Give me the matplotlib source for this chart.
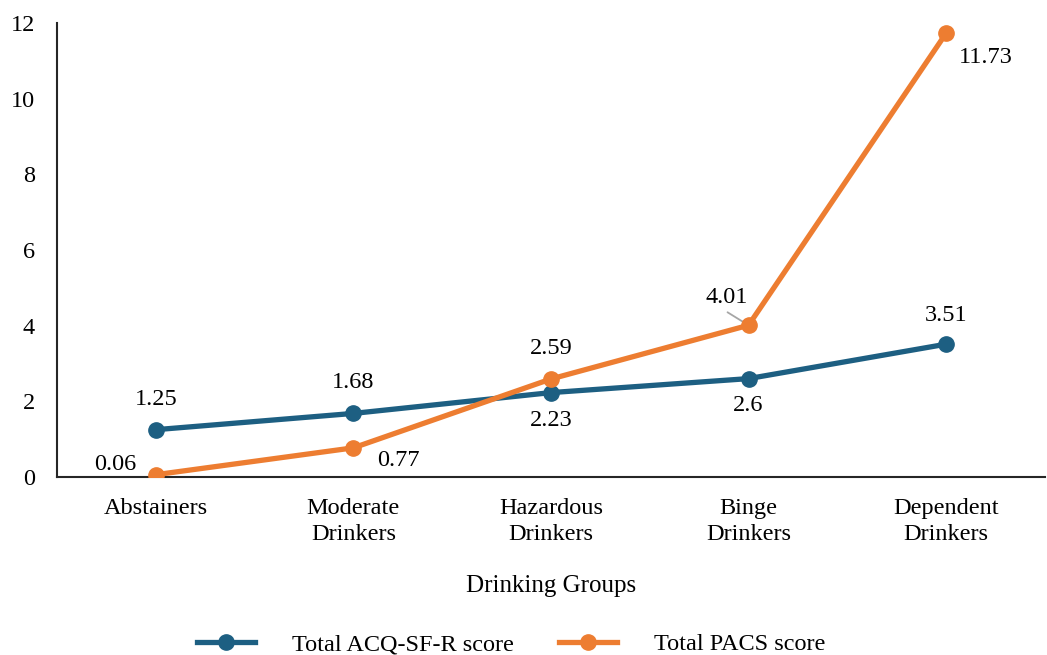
import numpy as np
import matplotlib.pyplot as plt

plt.rcParams['font.family'] = ['Liberation Serif', 'DejaVu Serif']

groups = ['Abstainers', 'Moderate\nDrinkers', 'Hazardous\nDrinkers', 'Binge\nDrinkers', 'Dependent\nDrinkers']
acq = [1.25, 1.68, 2.23, 2.6, 3.51]
pacs = [0.06, 0.77, 2.59, 4.01, 11.73]
acq_labels = ['1.25', '1.68', '2.23', '2.6', '3.51']
pacs_labels = ['0.06', '0.77', '2.59', '4.01', '11.73']

blue = '#1d5f82'
orange = '#ed7d31'
fs = 17.5

fig = plt.figure(figsize=(10.47, 6.55), dpi=100)
ax = fig.add_axes([0.0544, 0.2718, 0.9436, 0.6931])

x = np.arange(len(groups))
ax.plot(x, acq, color=blue, lw=3.8, marker='o', ms=11, label='Total ACQ-SF-R score', zorder=3)
ax.plot(x, pacs, color=orange, lw=3.8, marker='o', ms=11, label='Total PACS score', zorder=4)

# label offsets in pixels (dx, dy)
acq_off = [(0, 30), (0, 31), (0, -28), (0, -27), (0, 29)]
pacs_off = [(-41, 10), (45, -13), (0, 30), (-22, 28), (40, -24)]
for xi, v, s, o in zip(x, acq, acq_labels, acq_off):
    ax.annotate(s, (xi, v), xytext=o, textcoords='offset pixels',
                ha='center', va='center', fontsize=fs)
for i, (xi, v, s, o) in enumerate(zip(x, pacs, pacs_labels, pacs_off)):
    ax.annotate(s, (xi, v), xytext=o, textcoords='offset pixels',
                ha='center', va='center', fontsize=fs)

# leader line for the 4.01 label
ax.annotate('', (x[3], pacs[3]), xytext=(-21, 13), textcoords='offset pixels',
            arrowprops=dict(arrowstyle='-', color='#a6a6a6', lw=1.3,
                            shrinkA=0, shrinkB=2), zorder=3.5)

ax.set_xlim(-0.5, 4.5)
ax.set_ylim(0, 12)
ax.set_yticks(range(0, 13, 2))
ax.set_xticks(x)
ax.set_xticklabels(groups, fontsize=fs, linespacing=1.3)
ax.tick_params(axis='both', length=0, labelsize=fs)
ax.tick_params(axis='x', pad=15)
ax.tick_params(axis='y', pad=16)
for s in ['top', 'right']:
    ax.spines[s].set_visible(False)
for s in ['left', 'bottom']:
    ax.spines[s].set_linewidth(1.5)
    ax.spines[s].set_color('#262626')
ax.set_xlabel('Drinking Groups', fontsize=18, labelpad=22)

fig.legend(loc='center', bbox_to_anchor=(511 / 1047, 1 - 644 / 655), ncol=2,
           frameon=False, fontsize=fs, handlelength=2.4, columnspacing=1.85,
           handletextpad=1.5)

fig.savefig('out.png', dpi=100)
